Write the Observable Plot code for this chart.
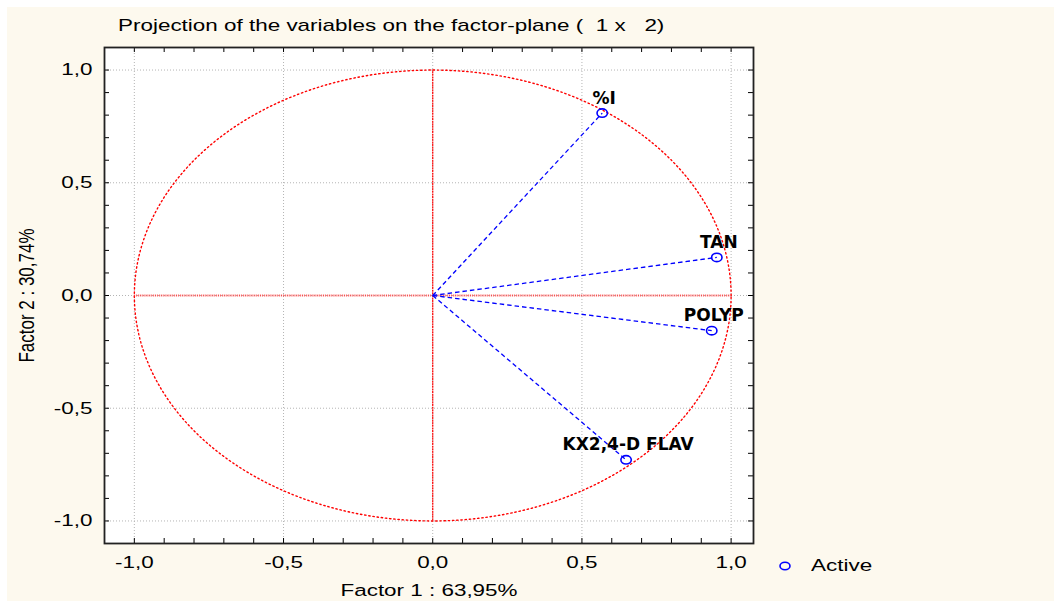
<!DOCTYPE html>
<html>
<head>
<meta charset="utf-8">
<script src="https://cdn.jsdelivr.net/npm/d3@7"></script>
<script src="https://cdn.jsdelivr.net/npm/@observablehq/plot@0.6"></script>
<style>
  html, body { margin: 0; padding: 0; background: #ffffff; width: 1054px; height: 601px; overflow: hidden; }
  #bg { position: absolute; left: 7px; top: 7px; right: 0; bottom: 0; background: #fdf9ee; }
  #chart { position: absolute; left: 0; top: 0; }
  #title { position: absolute; left: 118px; top: 16px; font: 17px "Liberation Sans", Arial, sans-serif; color: #000; white-space: pre; transform: scaleX(1.32); transform-origin: left center; }
  #legend { position: absolute; left: 779px; top: 556px; font: 17px "Liberation Sans", Arial, sans-serif; color: #000; display: flex; align-items: center; }
  #legend span { display: inline-block; transform: scaleX(1.32); transform-origin: left center; }
  #legend svg { margin-right: 20px; }
</style>
</head>
<body>
<div id="bg"></div>
<div id="chart"></div>
<div id="title">Projection of the variables on the factor-plane (  1 x   2)</div>
<div id="legend"><svg width="12" height="12"><ellipse cx="6" cy="6" rx="5" ry="3.8" fill="none" stroke="#0000ff" stroke-width="1.6"></ellipse></svg><span>Active</span></div>
<script>
// Variable names and loadings on factors 1 and 2
const variables = ["%I", "TAN", "POLYP", "KX2,4-D FLAV"];
const factor1 = [0.568, 0.952, 0.935, 0.648];
const factor2 = [0.809, 0.169, -0.156, -0.729];

// Axis ticks
const majorTicks = [-1, -0.5, 0, 0.5, 1];
const minorTicksX = [-1.1, -1.0, -0.9, -0.8, -0.7, -0.6, -0.5, -0.4, -0.3, -0.2, -0.1, 0, 0.1, 0.2, 0.3, 0.4, 0.5, 0.6, 0.7, 0.8, 0.9, 1.0];
const minorTicksY = [-1.1, -1.0, -0.9, -0.8, -0.7, -0.6, -0.5, -0.4, -0.3, -0.2, -0.1, 0, 0.1, 0.2, 0.3, 0.4, 0.5, 0.6, 0.7, 0.8, 0.9, 1.0, 1.1];

const xLabel = "Factor 1 : 63,95%";
const yLabel = "Factor 2 : 30,74%";

const data = variables.map((name, i) => ({name, x: factor1[i], y: factor2[i]}));
// unit correlation circle
const circle = d3.range(0, 361, 1).map(a => ({x: Math.cos(a * Math.PI / 180), y: Math.sin(a * Math.PI / 180)}));

const fmt = d => d.toFixed(1).replace(".", ",");

// slightly wide open marker (the source picture is horizontally stretched)
const ellipseSymbol = {
  draw(ctx) {
    const rx = 5.2, ry = 4.2, k = 0.5523;
    ctx.moveTo(rx, 0);
    ctx.bezierCurveTo(rx, ry * k, rx * k, ry, 0, ry);
    ctx.bezierCurveTo(-rx * k, ry, -rx, ry * k, -rx, 0);
    ctx.bezierCurveTo(-rx, -ry * k, -rx * k, -ry, 0, -ry);
    ctx.bezierCurveTo(rx * k, -ry, rx, -ry * k, rx, 0);
    ctx.closePath();
  }
};

const W = 1054, H = 601, mL = 104, mR = 301, mT = 47, mB = 58;
const innerW = W - mL - mR, innerH = H - mT - mB, tickLen = 5;

const chart = Plot.plot({
  width: W,
  height: H,
  marginLeft: mL,
  marginRight: mR,
  marginTop: mT,
  marginBottom: mB,
  x: {domain: [-1.1, 1.075]},
  y: {domain: [-1.1, 1.1]},
  style: {background: "transparent", fontFamily: "'Liberation Sans', Arial, sans-serif", fontSize: "17px", color: "#000"},
  marks: [
    Plot.frame({fill: "white", stroke: null}),
    Plot.gridX(majorTicks, {stroke: "#b4b4b4", strokeOpacity: 1, strokeDasharray: "1,2"}),
    Plot.gridY(majorTicks, {stroke: "#b4b4b4", strokeOpacity: 1, strokeDasharray: "1,2"}),
    Plot.line(circle, {x: "x", y: "y", stroke: "#ff0000", strokeWidth: 1.4, strokeDasharray: "1.4,2.8", curve: "linear"}),
    Plot.ruleX([0], {y1: -1, y2: 1, stroke: "#ff0000", strokeWidth: 1.2, strokeDasharray: "2,0.6"}),
    Plot.ruleY([0], {x1: -1, x2: 1, stroke: "#ff3030", strokeOpacity: 0.75, strokeWidth: 1.8, strokeDasharray: "1.2,0.9"}),
    Plot.link(data, {x1: 0, y1: 0, x2: "x", y2: "y", stroke: "#0000ff", strokeWidth: 1.3, strokeDasharray: "4.5,3"}),
    Plot.dot(data, {x: "x", y: "y", r: 5, symbol: ellipseSymbol, stroke: "#0000ff", fill: "none", strokeWidth: 1.6}),
    Plot.text(data, {x: "x", y: "y", text: "name", dy: -15, dx: 2, fontWeight: "bold", fontSize: 17, fontFamily: "'DejaVu Sans', Verdana, sans-serif", fill: "#000"}),
    // inner minor ticks on all four sides
    Plot.tickX(minorTicksX, {x: d => d, insetTop: innerH - tickLen, stroke: "#000"}),
    Plot.tickX(minorTicksX, {x: d => d, insetBottom: innerH - tickLen, stroke: "#000"}),
    Plot.tickY(minorTicksY, {y: d => d, insetRight: innerW - tickLen, stroke: "#000"}),
    Plot.tickY(minorTicksY, {y: d => d, insetLeft: innerW - tickLen, stroke: "#000"}),
    Plot.axisX({anchor: "bottom", ticks: majorTicks, tickSize: 0, tickPadding: 12, tickFormat: fmt, label: xLabel, labelAnchor: "center", labelArrow: "none", labelOffset: 52, fill: "#000"}),
    Plot.axisY({anchor: "left", ticks: majorTicks, tickSize: 0, tickPadding: 12, tickFormat: fmt, label: yLabel, labelAnchor: "center", labelArrow: "none", labelOffset: 86, fill: "#000"}),
    Plot.frame({stroke: "#222", strokeWidth: 1.8})
  ]
});
document.getElementById("chart").appendChild(chart);

// The source chart's axis text is horizontally stretched; reproduce that.
const SX = 1.32;
chart.querySelectorAll('g[aria-label$="axis tick label"] text, g[aria-label$="axis label"] text').forEach(t => {
  let pre = t.getAttribute("transform") || "";
  const rotated = pre.includes("rotate");
  const xa = t.getAttribute("x");
  if (xa != null && xa !== "" && !isNaN(+xa) && +xa !== 0) { pre += ` translate(${+xa},0)`; t.removeAttribute("x"); }
  const ya = t.getAttribute("y");
  if (ya != null && ya !== "" && !isNaN(+ya) && +ya !== 0) { pre += ` translate(0,${+ya})`; t.removeAttribute("y"); }
  t.setAttribute("transform", rotated ? `${pre} scale(1,${SX})` : `${pre} scale(${SX},1)`);
});
</script>
</body>
</html>
